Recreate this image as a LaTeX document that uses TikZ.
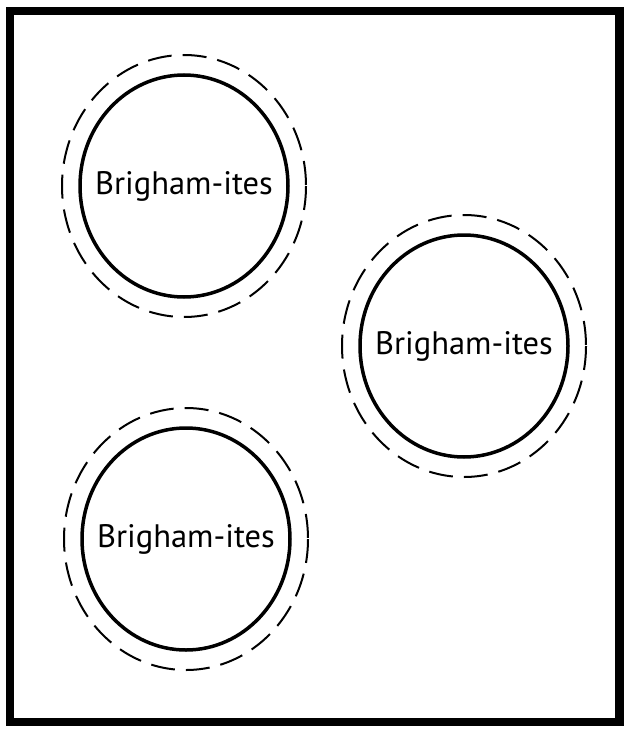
\documentclass[tikz,border=0pt]{standalone}
\usepackage{fontspec}
\setsansfont{PT Sans}
\usepackage{tikz}

\begin{document}
\begin{tikzpicture}[x=1pt, y=-1pt,
    inner/.style={line width=3.5pt},
    outer/.style={line width=2pt, dash pattern=on 24pt off 11pt},
    groupname/.style={font=\sffamily\fontsize{32.5}{38}\selectfont}]
    \useasboundingbox (0,0) rectangle (625,733);
    \draw[line width=8.5pt] (10,11) rectangle (619.5,722);
    \foreach \n/\x/\y in {1/184/186, 2/464/346, 3/186/539} {
        \node[groupname] (group\n) at (\x,\y) {Brigham-ites};
        \draw[inner] (group\n.center) ellipse (104 and 111);
        \draw[outer] (group\n.center) ellipse (122 and 131);
    }
\end{tikzpicture}
\end{document}
